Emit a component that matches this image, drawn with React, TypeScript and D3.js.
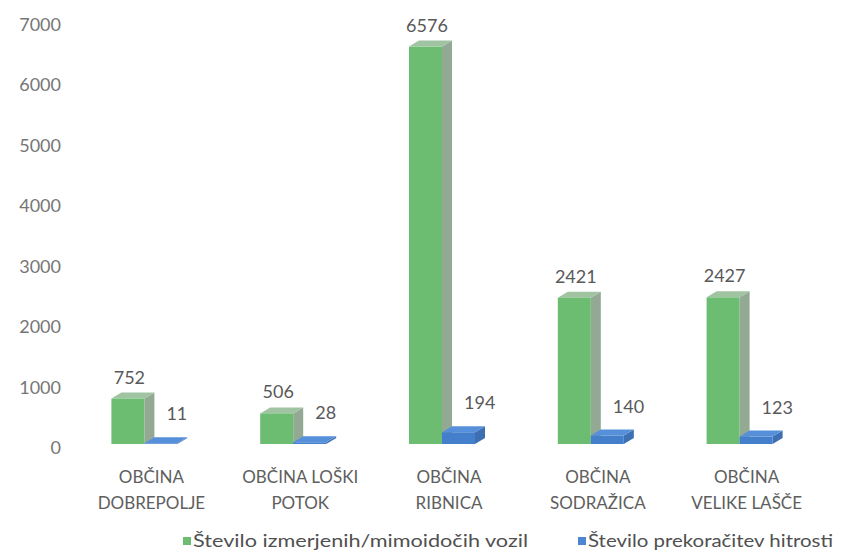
import React, { useEffect, useRef } from "react";
import * as d3 from "d3";

// podatki
const categories = [
  ["OBČINA", "DOBREPOLJE"],
  ["OBČINA LOŠKI", "POTOK"],
  ["OBČINA", "RIBNICA"],
  ["OBČINA", "SODRAŽICA"],
  ["OBČINA", "VELIKE LAŠČE"],
];
const vehicles = [752, 506, 6576, 2421, 2427];
const speeding = [11, 28, 194, 140, 123];
const yTicks = [0, 1000, 2000, 3000, 4000, 5000, 6000, 7000];
const seriesNames = ["Število izmerjenih/mimoidočih  vozil", "Število prekoračitev hitrosti"];

const Chart = () => {
  const ref = useRef<SVGSVGElement>(null);

  useEffect(() => {
    const svg = d3.select(ref.current);
    svg.selectAll("*").remove();

    const width = 861;
    const height = 554;
    const font = "Lato, 'Open Sans', sans-serif";
    svg.attr("width", width).attr("height", height);

    svg.append("rect").attr("width", width).attr("height", height).attr("fill", "#fff");

    const keys = categories.map((c) => c.join(" "));
    const x = d3.scaleBand().domain(keys).range([77, 821]);
    const y = d3.scaleLinear().domain([0, 7000]).range([444, 21]);

    const dx = 10; // globina 3D
    const dy = 6;
    const w = 33;

    // os y
    svg.append("g")
      .selectAll("text")
      .data(yTicks)
      .enter().append("text")
      .attr("x", 61)
      .attr("y", (d) => y(d) + 3)
      .attr("text-anchor", "end")
      .attr("dominant-baseline", "central")
      .attr("font-family", font)
      .attr("font-size", 18)
      .attr("fill", "#767676")
      .text((d) => d);

    const box = (g, x0, v, c) => {
      const yt = y(v);
      const yb = y(0);
      // stranska ploskev
      g.append("path")
        .attr("d", `M${x0 + w},${yb} L${x0 + w + dx},${yb - dy} L${x0 + w + dx},${yt - dy} L${x0 + w},${yt} Z`)
        .attr("fill", c.side);
      // zgornja ploskev
      g.append("path")
        .attr("d", `M${x0},${yt} L${x0 + dx},${yt - dy} L${x0 + w + dx},${yt - dy} L${x0 + w},${yt} Z`)
        .attr("fill", c.top);
      // sprednja ploskev
      g.append("rect")
        .attr("x", x0)
        .attr("y", yt)
        .attr("width", w)
        .attr("height", Math.max(0, yb - yt))
        .attr("fill", c.front);
    };

    const green = { front: "#6cbd72", side: "#93a993", top: "#a0c4a1" };
    const blue = { front: "#447fcc", side: "#3d70b3", top: "#5790da" };

    const bars = svg.append("g");
    keys.forEach((k, i) => {
      const c = x(k) + x.bandwidth() / 2;
      box(bars, c - 40, vehicles[i], green);
      box(bars, c - 7, speeding[i], blue);
    });

    // oznake podatkov
    svg.append("g")
      .selectAll("text")
      .data(vehicles)
      .enter().append("text")
      .attr("x", (d, i) => x(keys[i]) + x.bandwidth() / 2 - 22)
      .attr("y", (d) => y(d) - 15)
      .attr("text-anchor", "middle")
      .attr("font-family", font)
      .attr("font-size", 18)
      .attr("fill", "#595959")
      .text((d) => d);

    svg.append("g")
      .selectAll("text")
      .data(speeding)
      .enter().append("text")
      .attr("x", (d, i) => x(keys[i]) + x.bandwidth() / 2 + 15)
      .attr("y", (d) => y(d) - 23)
      .attr("font-family", font)
      .attr("font-size", 18)
      .attr("fill", "#595959")
      .text((d) => d);

    // os x
    const xl = svg.append("g")
      .selectAll("text")
      .data(categories)
      .enter().append("text")
      .attr("x", (d) => x(d.join(" ")) + x.bandwidth() / 2)
      .attr("y", 483)
      .attr("text-anchor", "middle")
      .attr("font-family", font)
      .attr("font-size", 17)
      .attr("fill", "#5e5e5e");
    xl.selectAll("tspan")
      .data((d) => d)
      .enter().append("tspan")
      .attr("x", function () { return d3.select(this.parentNode).attr("x"); })
      .attr("dy", (d, i) => (i === 0 ? 0 : 26))
      .text((d) => d);

    // legenda
    const legend = [
      { name: seriesNames[0], color: green.front, x: 183, len: 335 },
      { name: seriesNames[1], color: "#4f86d4", x: 578, len: 245 },
    ];
    const lg = svg.append("g").selectAll("g").data(legend).enter().append("g");
    lg.append("rect")
      .attr("x", (d) => d.x)
      .attr("y", 537)
      .attr("width", 8)
      .attr("height", 8)
      .attr("fill", (d) => d.color);
    lg.append("text")
      .attr("x", (d) => d.x + 10)
      .attr("y", 547)
      .attr("font-family", font)
      .attr("font-size", 18)
      .attr("fill", "#505050")
      .attr("textLength", (d) => d.len)
      .attr("lengthAdjust", "spacingAndGlyphs")
      .text((d) => d.name);
  }, []);

  return <svg ref={ref} style={{ display: "block", position: "absolute", left: 0, top: 0 }}></svg>;
};

export default function App() {
  return <Chart />;
}
